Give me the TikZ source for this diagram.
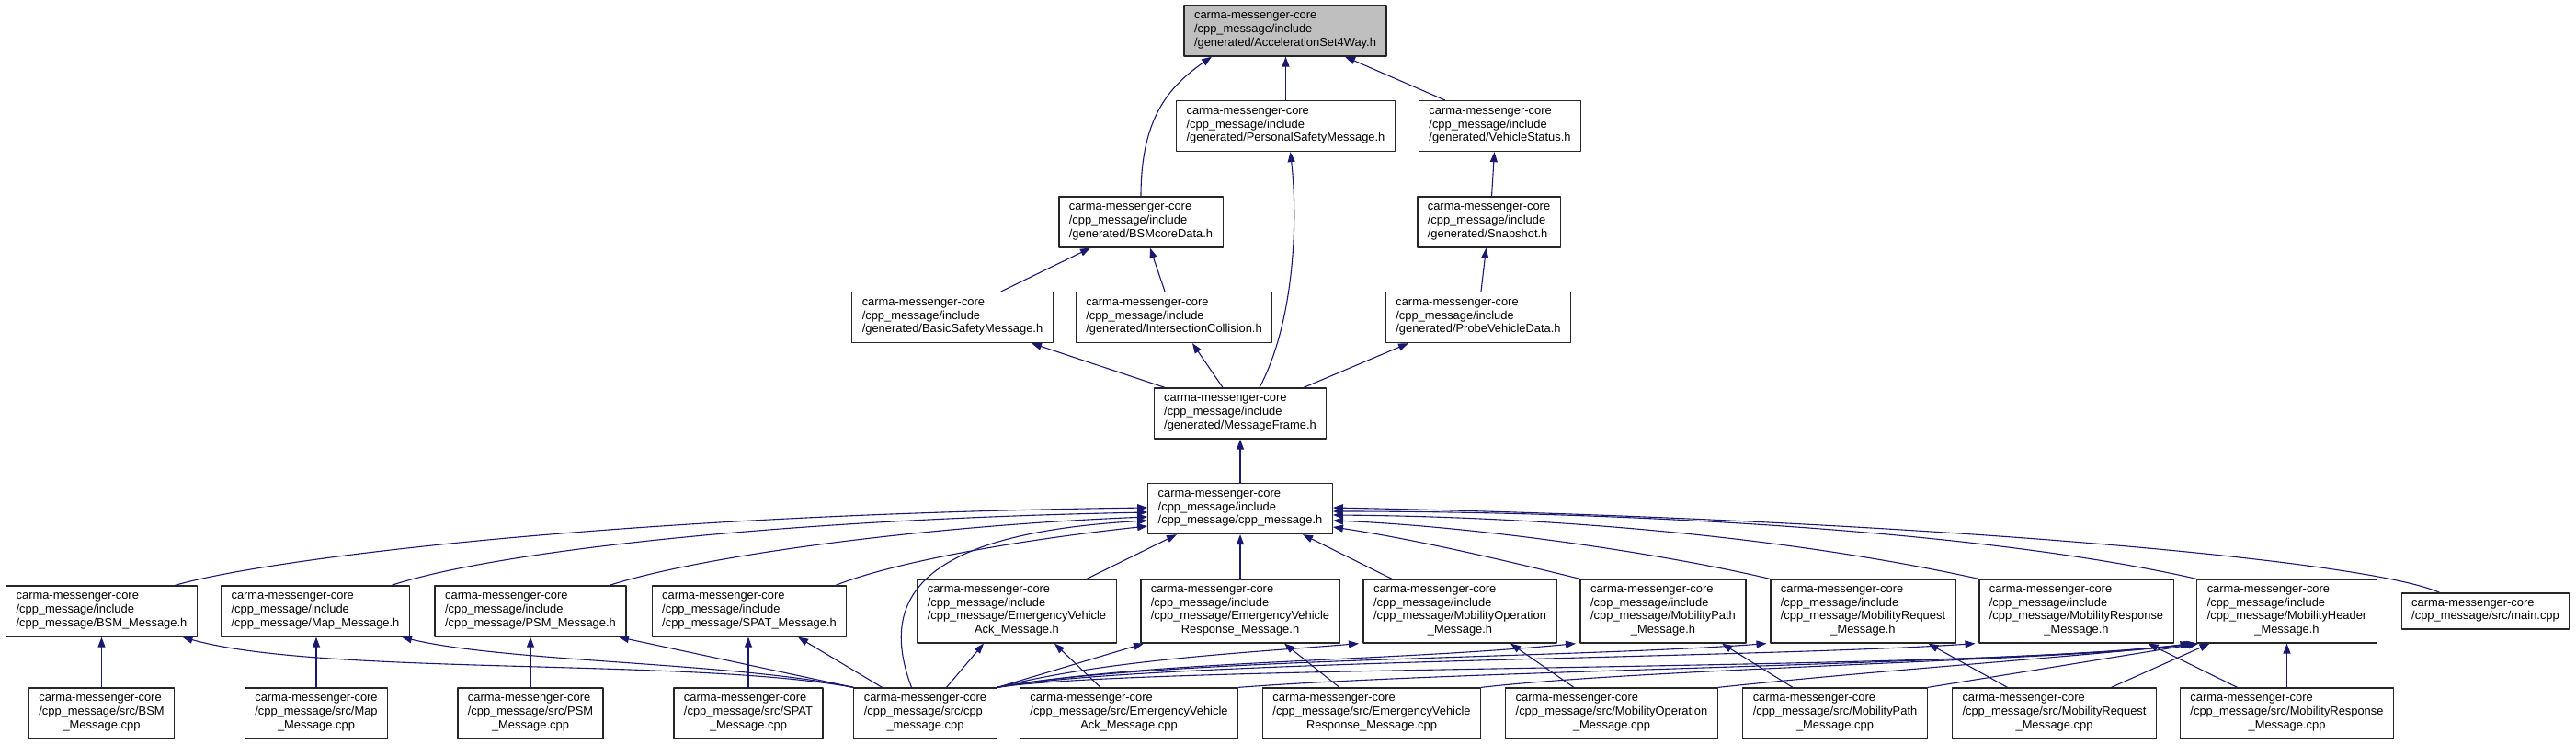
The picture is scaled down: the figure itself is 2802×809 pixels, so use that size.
\documentclass[tikz,border=0pt]{standalone}
\usepackage{fontspec}
\setmainfont{Liberation Sans}
\usepackage{tikz}
\usetikzlibrary{arrows.meta}
\definecolor{edgeblue}{HTML}{191970}
\definecolor{rootgray}{HTML}{BFBFBF}
\newcommand{\gfont}{\fontsize{12.9}{14.7}\selectfont}
\newcommand{\ctrline}[1]{\hfill#1\hfill\null}
\tikzset{
  every picture/.style={line join=round, line cap=round},
  hfile/.style={draw=black!85, fill=white, line width=1.3pt, align=left, font=\gfont, inner xsep=11pt, inner ysep=0pt},
  rows2/.style={hfile, minimum height=39pt},
  rows3/.style={hfile, minimum height=55pt},
  rows4/.style={hfile, minimum height=69pt},
  root/.style={rows3, fill=rootgray},
  incl/.style={draw=edgeblue, line width=1.1pt, -{Triangle[length=11pt,width=8pt]}},
}

\begin{document}
\begin{tikzpicture}[x=1pt,y=-1pt]
\useasboundingbox (0,0) rectangle (2802,809);
% generated headers
\node[root] (accel) at (1398,33.5) {carma-messenger-core\\/cpp\_message/include\\/generated/AccelerationSet4Way.h};
\node[rows3] (psmgen) at (1398.5,137) {carma-messenger-core\\/cpp\_message/include\\/generated/PersonalSafetyMessage.h};
\node[rows3] (vstatus) at (1631.5,137) {carma-messenger-core\\/cpp\_message/include\\/generated/VehicleStatus.h};
\node[rows3] (bsmcore) at (1241,241.5) {carma-messenger-core\\/cpp\_message/include\\/generated/BSMcoreData.h};
\node[rows3] (snapshot) at (1619.5,241.5) {carma-messenger-core\\/cpp\_message/include\\/generated/Snapshot.h};
\node[rows3] (basic) at (1036,345) {carma-messenger-core\\/cpp\_message/include\\/generated/BasicSafetyMessage.h};
\node[rows3] (intersect) at (1277,345) {carma-messenger-core\\/cpp\_message/include\\/generated/IntersectionCollision.h};
\node[rows3] (probe) at (1608,345) {carma-messenger-core\\/cpp\_message/include\\/generated/ProbeVehicleData.h};
\node[rows3] (msgframe) at (1349,449.5) {carma-messenger-core\\/cpp\_message/include\\/generated/MessageFrame.h};
\node[rows3] (cppmsgh) at (1349,553) {carma-messenger-core\\/cpp\_message/include\\/cpp\_message/cpp\_message.h};
% message headers
\node[rows3] (bsmh) at (110.5,664.5) {carma-messenger-core\\/cpp\_message/include\\/cpp\_message/BSM\_Message.h};
\node[rows3] (maph) at (343,664.5) {carma-messenger-core\\/cpp\_message/include\\/cpp\_message/Map\_Message.h};
\node[rows3] (psmh) at (577,664.5) {carma-messenger-core\\/cpp\_message/include\\/cpp\_message/PSM\_Message.h};
\node[rows3] (spath) at (815,664.5) {carma-messenger-core\\/cpp\_message/include\\/cpp\_message/SPAT\_Message.h};
\node[rows4] (evackh) at (1106,664.5) {carma-messenger-core\\/cpp\_message/include\\/cpp\_message/EmergencyVehicle\\\ctrline{Ack\_Message.h}};
\node[rows4] (evresph) at (1349,664.5) {carma-messenger-core\\/cpp\_message/include\\/cpp\_message/EmergencyVehicle\\\ctrline{Response\_Message.h}};
\node[rows4] (mobopH) at (1588,664.5) {carma-messenger-core\\/cpp\_message/include\\/cpp\_message/MobilityOperation\\\ctrline{\_Message.h}};
\node[rows4] (mobpathH) at (1809,664.5) {carma-messenger-core\\/cpp\_message/include\\/cpp\_message/MobilityPath\\\ctrline{\_Message.h}};
\node[rows4] (mobreqH) at (2026.5,664.5) {carma-messenger-core\\/cpp\_message/include\\/cpp\_message/MobilityRequest\\\ctrline{\_Message.h}};
\node[rows4] (mobrespH) at (2258.5,664.5) {carma-messenger-core\\/cpp\_message/include\\/cpp\_message/MobilityResponse\\\ctrline{\_Message.h}};
\node[rows4] (mobheadH) at (2487.5,664.5) {carma-messenger-core\\/cpp\_message/include\\/cpp\_message/MobilityHeader\\\ctrline{\_Message.h}};
\node[rows2] (mainc) at (2703.5,664.5) {carma-messenger-core\\/cpp\_message/src/main.cpp};
% sources
\node[rows3] (bsmc) at (110.5,775.5) {carma-messenger-core\\/cpp\_message/src/BSM\\\ctrline{\_Message.cpp}};
\node[rows3] (mapc) at (344,775.5) {carma-messenger-core\\/cpp\_message/src/Map\\\ctrline{\_Message.cpp}};
\node[rows3] (psmc) at (577,775.5) {carma-messenger-core\\/cpp\_message/src/PSM\\\ctrline{\_Message.cpp}};
\node[rows3] (spatc) at (814,775.5) {carma-messenger-core\\/cpp\_message/src/SPAT\\\ctrline{\_Message.cpp}};
\node[rows3] (cppc) at (1006.5,775.5) {carma-messenger-core\\/cpp\_message/src/cpp\\\ctrline{\_message.cpp}};
\node[rows3] (evackc) at (1228,775.5) {carma-messenger-core\\/cpp\_message/src/EmergencyVehicle\\\ctrline{Ack\_Message.cpp}};
\node[rows3] (evrespc) at (1492,775.5) {carma-messenger-core\\/cpp\_message/src/EmergencyVehicle\\\ctrline{Response\_Message.cpp}};
\node[rows3] (mobopc) at (1753,775.5) {carma-messenger-core\\/cpp\_message/src/MobilityOperation\\\ctrline{\_Message.cpp}};
\node[rows3] (mobpathc) at (1996,775.5) {carma-messenger-core\\/cpp\_message/src/MobilityPath\\\ctrline{\_Message.cpp}};
\node[rows3] (mobreqc) at (2234.5,775.5) {carma-messenger-core\\/cpp\_message/src/MobilityRequest\\\ctrline{\_Message.cpp}};
\node[rows3] (mobrespc) at (2487.5,775.5) {carma-messenger-core\\/cpp\_message/src/MobilityResponse\\\ctrline{\_Message.cpp}};
% top part
\draw[incl] (bsmcore.north) .. controls (1241,130) and (1270,95) .. ([xshift=-80]accel.south);
\draw[incl] (psmgen.north) -- (psmgen.north |- accel.south);
\draw[incl] ([xshift=-60]vstatus.north) -- ([xshift=65]accel.south);
\draw[incl] ([xshift=53]basic.north) -- ([xshift=-55]bsmcore.south);
\draw[incl] ([xshift=-10]intersect.north) -- ([xshift=10]bsmcore.south);
\draw[incl] ([xshift=-82]msgframe.north) -- ([xshift=86]basic.south);
\draw[incl] ([xshift=-19]msgframe.north) -- ([xshift=20]intersect.south);
\draw[incl] ([xshift=21]msgframe.north) .. controls (1408,350) and (1412,240) .. ([xshift=5]psmgen.south);
\draw[incl] ([xshift=69]msgframe.north) -- ([xshift=-76]probe.south);
\draw[incl] ([xshift=3]snapshot.north) -- ([xshift=-6]vstatus.south);
\draw[incl] ([xshift=3]probe.north) -- ([xshift=-3]snapshot.south);
\draw[incl] (cppmsgh.north) -- (msgframe.south);
% into cpp_message.h
\draw[incl] ([xshift=80]bsmh.north) .. controls (280,610) and (650,560) .. ([yshift=1]cppmsgh.west);
\draw[incl] ([xshift=83]maph.north) .. controls (520,605) and (800,566) .. ([yshift=-4]cppmsgh.west);
\draw[incl] ([xshift=86]psmh.north) .. controls (760,605) and (1000,572) .. ([yshift=-9]cppmsgh.west);
\draw[incl] ([xshift=94]spath.north) .. controls (970,612) and (1100,588) .. ([yshift=-19]cppmsgh.west);
\draw[incl] ([xshift=-15]cppc.north) .. controls (955,650) and (1000,580) .. ([yshift=-13]cppmsgh.west);
\draw[incl] ([xshift=76]evackh.north) -- ([xshift=-69]cppmsgh.south);
\draw[incl] (evresph.north) -- (cppmsgh.south);
\draw[incl] ([xshift=-74]mobopH.north) -- ([xshift=68]cppmsgh.south);
\draw[incl] (mobpathH.north west) .. controls (1620,605) and (1530,585) .. ([yshift=-20]cppmsgh.east);
\draw[incl] (mobreqH.north west) .. controls (1800,600) and (1600,572) .. ([yshift=-13]cppmsgh.east);
\draw[incl] (mobrespH.north west) .. controls (1950,585) and (1700,562) .. ([yshift=-7]cppmsgh.east);
\draw[incl] (mobheadH.north west) .. controls (2150,575) and (1750,556) .. ([yshift=-3]cppmsgh.east);
\draw[incl] ([xshift=-50]mainc.north) .. controls (2580,610) and (2100,565) .. ([yshift=1]cppmsgh.east);
% sources into headers
\draw[incl] (bsmc.north) -- (bsmc.north |- bsmh.south);
\draw[incl] (mapc.north) -- (mapc.north |- maph.south);
\draw[incl] (psmc.north) -- (psmc.north |- psmh.south);
\draw[incl] (spatc.north) -- (spatc.north |- spath.south);
\draw[incl] (cppc.north west) .. controls (750,715) and (350,735) .. ([xshift=88]bsmh.south);
\draw[incl] (cppc.north west) .. controls (800,720) and (550,720) .. ([xshift=94]maph.south);
\draw[incl] (cppc.north west) -- ([xshift=96]psmh.south);
\draw[incl] ([xshift=-47]cppc.north) -- ([xshift=53]spath.south);
\draw[incl] ([xshift=23]cppc.north) -- ([xshift=-36]evackh.south);
\draw[incl] (cppc.north east) -- ([xshift=-105]evresph.south);
\draw[incl] (cppc.north east) .. controls (1200,718) and (1350,710) .. ([xshift=-110]mobopH.south);
\draw[incl] (cppc.north east) .. controls (1250,718) and (1500,720) .. ([xshift=-95]mobpathH.south);
\draw[incl] (cppc.north east) .. controls (1250,716) and (1700,716) .. ([xshift=-105]mobreqH.south);
\draw[incl] (cppc.north east) .. controls (1250,718) and (1900,716) .. ([xshift=-110]mobrespH.south);
\draw[incl] (cppc.north east) .. controls (1250,722) and (2150,730) .. ([xshift=-105]mobheadH.south);
\draw[incl] ([xshift=-31]evackc.north) -- ([xshift=41]evackh.south);
\draw[incl] (evackc.north east) .. controls (1600,728) and (2200,722) .. ([xshift=-102]mobheadH.south);
\draw[incl] ([xshift=-35]evrespc.north) -- ([xshift=48]evresph.south);
\draw[incl] (evrespc.north east) .. controls (1800,726) and (2250,718) .. ([xshift=-100]mobheadH.south);
\draw[incl] ([xshift=-41]mobopc.north) -- ([xshift=55]mobopH.south);
\draw[incl] (mobopc.north east) .. controls (2050,728) and (2250,715) .. ([xshift=-98]mobheadH.south);
\draw[incl] ([xshift=-46]mobpathc.north) -- ([xshift=64]mobpathH.south);
\draw[incl] (mobpathc.north east) -- ([xshift=-96]mobheadH.south);
\draw[incl] ([xshift=-51]mobreqc.north) -- ([xshift=71]mobreqH.south);
\draw[incl] ([xshift=62]mobreqc.north) -- ([xshift=-84]mobheadH.south);
\draw[incl] ([xshift=-54]mobrespc.north) -- ([xshift=78]mobrespH.south);
\draw[incl] (mobrespc.north) -- (mobrespc.north |- mobheadH.south);
\end{tikzpicture}
\end{document}
